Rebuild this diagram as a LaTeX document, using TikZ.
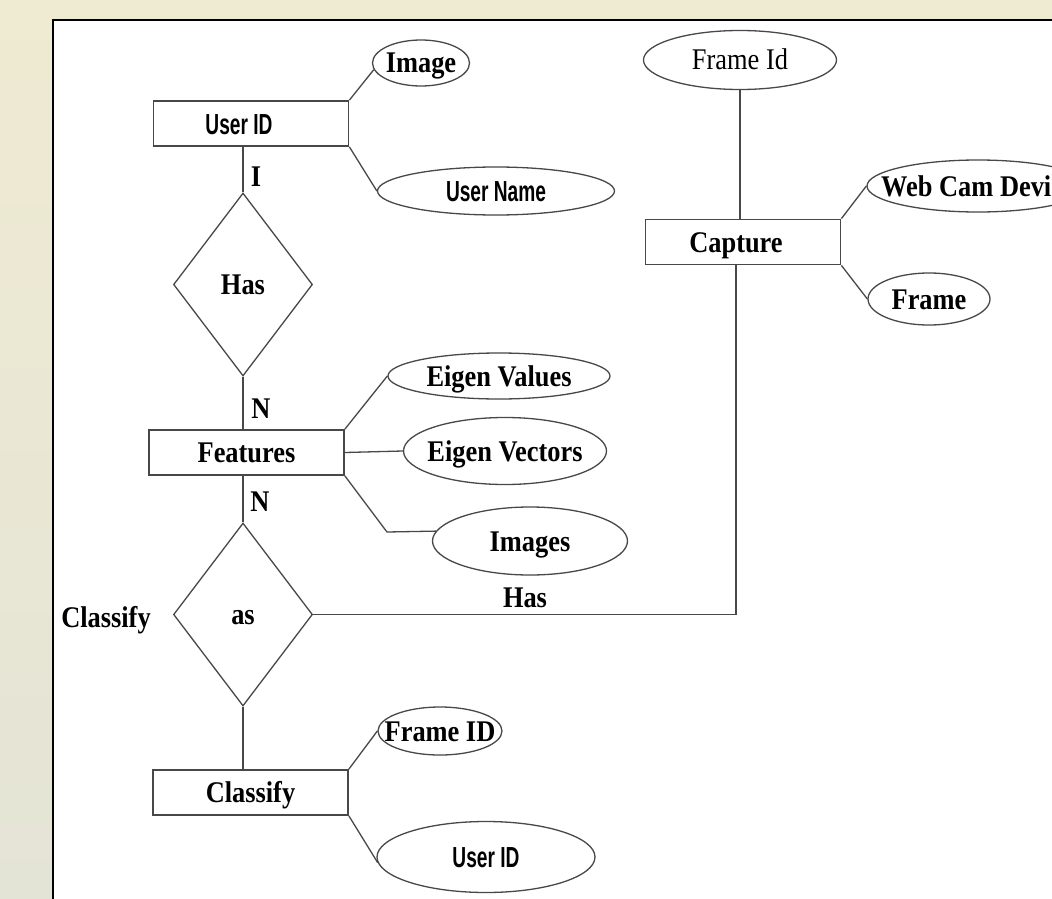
\documentclass[tikz,border=0pt]{standalone}
\usepackage{fontspec}
\usetikzlibrary{positioning,shapes.geometric}
\newfontfamily\erserif[FakeStretch=0.88]{Liberation Serif}
\newfontfamily\ersans[FakeStretch=0.66]{Liberation Sans}
\definecolor{bgtop}{RGB}{239,234,210}
\definecolor{bgbot}{RGB}{228,228,214}
\definecolor{edgegray}{RGB}{72,72,72}
\newcommand{\serifbold}{\erserif\bfseries\fontsize{30}{34}\selectfont}
\newcommand{\serifplain}{\erserif\fontsize{30}{34}\selectfont}
\newcommand{\sansbold}{\ersans\bfseries\fontsize{29}{33}\selectfont}
% text that may run over the ellipse outline, as in the scan
\newcommand{\zerowide}[1]{\makebox[0pt]{#1}}

\begin{document}
\begin{tikzpicture}[x=1pt, y=-1pt,
    ent/.style={draw=edgegray, line width=1.8pt, minimum width=195pt, minimum height=45pt,
                inner sep=0pt, text height=20pt, text depth=0pt, font=\serifbold},
    rel/.style={diamond, draw=edgegray, line width=1.3pt, minimum width=139pt, minimum height=183pt,
                inner sep=0pt, text height=20pt, text depth=0pt, font=\serifbold},
    attr/.style={ellipse, draw=edgegray, line width=1.3pt, inner sep=0pt,
                 text height=20pt, text depth=0pt, font=\serifbold},
    sanstext/.style={text height=21pt, font=\sansbold},
    lbl/.style={inner sep=0pt, text height=20pt, text depth=0pt, font=\serifbold},
    link/.style={draw=edgegray, line width=1.3pt}
  ]
  % backdrop and panel
  \useasboundingbox (0,0) rectangle (1052,899);
  \shade[top color=bgtop, bottom color=bgbot] (0,0) rectangle (1052,899);
  \fill[white] (53,20) rectangle (1052,899);
  \draw[line width=2.5pt] (53,899) -- (53,20) -- (1052,20);
  \clip (0,0) rectangle (1052,899);

  % entities
  \node[ent, sanstext] (uid) at (251,123.5) {User ID\rule{24pt}{0pt}};
  \node[ent] (feat) at (246.5,452.5) {Features};
  \node[ent] (cap) at (743,242) {Capture\rule{14pt}{0pt}};
  \node[ent] (cls) at (250.5,792.5) {Classify};

  % relations
  \node[rel] (has) at (243,284.5) {Has};
  \node[rel] (as) at (243,614.5) {as};

  % attributes
  \node[attr, minimum width=97pt, minimum height=46pt] (img) at (421,63) {\zerowide{Image}};
  \node[attr, sanstext, minimum width=237pt, minimum height=48pt] (uname) at (496,191) {\zerowide{User Name}};
  \node[attr, font=\serifplain, minimum width=193pt, minimum height=59pt] (fid2) at (740,60) {\zerowide{Frame Id}};
  \node[attr, minimum width=222pt, minimum height=52pt] (web) at (978,186) {\zerowide{Web Cam Device}};
  \node[attr, minimum width=122pt, minimum height=52pt] (frm) at (929,299) {\zerowide{Frame}};
  \node[attr, minimum width=222pt, minimum height=46pt] (ev) at (499,376) {\zerowide{Eigen Values}};
  \node[attr, minimum width=203pt, minimum height=67pt] (evec) at (505,451) {\zerowide{Eigen Vectors}};
  \node[attr, minimum width=195pt, minimum height=68pt] (imgs) at (530,541) {\zerowide{Images}};
  \node[attr, minimum width=124pt, minimum height=48pt] (fid) at (440,731) {\zerowide{Frame ID}};
  \node[attr, sanstext, minimum width=218pt, minimum height=71pt] (uid2) at (486,857) {\zerowide{User ID}};

  % cardinalities and role names
  \node[lbl] (one) at (256,176.5) {I};
  \node[lbl] (nup) at (261,408) {N};
  \node[lbl] (ndown) at (260,501) {N};
  \node[lbl] (hasl) at (525,597.5) {Has};
  \node[lbl] (clsl) at (106,617) {Classify};

  % links
  \draw[link] (uid.north east) -- (img.188);
  \draw[link] (uid.south east) -- (uname.west);
  \draw[link] (has.north |- uid.south) -- (has.north);
  \draw[link] (has.south) -- (has.south |- feat.north);
  \draw[link] (feat.north east) -- (ev.west);
  \draw[link] (feat.east) -- (evec.west);
  \coordinate (imgbend) at (387,532);
  \draw[link] (feat.south east) -- (imgbend) -- (imgs.174.5);
  \draw[link] (as.north |- feat.south) -- (as.north);
  \draw[link] (as.south) -- (as.south |- cls.north);
  \draw[link] (cls.north east) -- (fid.west);
  \draw[link] (cls.south east) -- (uid2.183);
  \draw[link] (as.east) -| ([xshift=-7pt]cap.south);
  \draw[link] (fid2.south) -- (fid2.south |- cap.north);
  \draw[link] (cap.north east) -- (web.west);
  \draw[link] (cap.south east) -- (frm.west);
\end{tikzpicture}
\end{document}
